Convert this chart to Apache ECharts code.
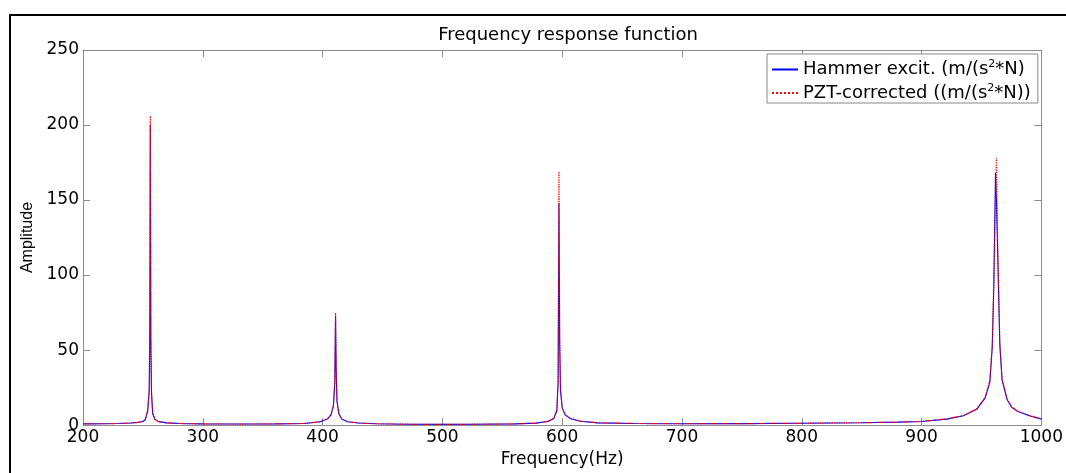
<!DOCTYPE html>
<html>
<head>
<meta charset="utf-8">
<script src="https://cdn.jsdelivr.net/npm/echarts@6/dist/echarts.min.js"></script>
<style>
html,body{margin:0;padding:0;background:#fff;}
#chart{width:1066px;height:473px;}
</style>
</head>
<body>
<div id="chart"></div>
<script>
// Frequency axis samples (Hz)
var freq = [
  200,215,230,240,246,250,252,254,255.3,255.8,256.2,256.6,257.2,258.2,260,263,270,280,300,
  330,360,385,398,404,407,409,410.2,410.8,411.3,412,413.5,416,421,430,445,470,
  500,530,560,578,588,593,595.5,596.6,597.3,597.9,598.6,600,602.5,607,615,630,660,700,
  750,800,850,880,900,921,935,946,953,957,959,960.3,961.7,962.5,963.6,965.3,967.2,971.4,975,980,990,1000
];
// Hammer excitation FRF amplitude
var hammer = [
  0.8,0.9,1.1,1.4,1.8,2.4,3.6,9.5,23,65,200,55,21,7.5,3.8,2.3,1.5,1.1,0.8,
  0.7,0.8,1.1,2.2,4,6.8,12.5,28,73,38,16,7.8,4,2.2,1.4,0.9,0.6,
  0.5,0.6,0.8,1.3,2.4,4.4,9.5,28,148,55,23,11.5,6.8,4.2,2.6,1.5,1.1,0.9,
  1.0,1.2,1.6,2.0,2.4,4.0,6.2,10.5,18,28.5,52,92,168,150,112,54,30,17,12,9.2,6.2,4.0
];
// PZT-corrected FRF amplitude
var pzt = [
  0.8,0.9,1.1,1.4,1.8,2.5,3.8,10,24,70,206,60,22,8,4,2.4,1.5,1.1,0.8,
  0.7,0.8,1.1,2.2,4,7,13,30,75,40,17,8,4,2.2,1.4,0.9,0.6,
  0.5,0.6,0.8,1.3,2.4,4.5,10,30,169,60,25,12,7,4.4,2.7,1.5,1.1,0.9,
  1.0,1.2,1.6,2.0,2.4,4.2,6.4,10.8,18.5,30,54,98,150,178,120,55,31,17.5,12.5,9.5,6.4,4.2
];
var seriesNames = ['Hammer excit. (m/(s2*N)', 'PZT-corrected ((m/(s2*N))'];
var legendRich = {
  'Hammer excit. (m/(s2*N)': '{t|Hammer excit. (m/(s}{s|2}{t|*N)}',
  'PZT-corrected ((m/(s2*N))': '{t|PZT-corrected ((m/(s}{s|2}{t|*N))}'
};
var titleText = 'Frequency response function';
var xName = 'Frequency(Hz)';
var yName = 'Amplitude';

function pairs(xs, ys){ var out=[]; for(var i=0;i<xs.length;i++){ out.push([xs[i], ys[i]]); } return out; }

var chart = echarts.init(document.getElementById('chart'), null, {renderer:'canvas'});
var F = 'DejaVu Sans';
var axisGray = '#8c8c8c';
var plain = function(v){ return String(v); };
var option = {
  animation:false,
  backgroundColor:'#fff',
  title:{
    text:titleText, left:563, top:21, textAlign:'center',
    textStyle:{fontFamily:F, fontSize:18, fontWeight:'normal', color:'#000'}
  },
  grid:{left:83, right:22, top:50, bottom:45, containLabel:false},
  legend:{
    orient:'vertical', left:767, top:54, data:seriesNames,
    itemWidth:26, itemHeight:10, itemGap:4,
    padding:[5,7,1,4],
    borderColor:'#888', borderWidth:1, backgroundColor:'#fff', borderRadius:0,
    itemStyle:{opacity:0},
    formatter:function(n){ return legendRich[n]; },
    textStyle:{fontFamily:F, fontSize:18, color:'#000',
      rich:{
        t:{fontFamily:F, fontSize:18, color:'#000', lineHeight:21},
        s:{fontFamily:F, fontSize:11, color:'#000', lineHeight:11, verticalAlign:'top'}
      }
    }
  },
  xAxis:[{
    type:'value', min:200, max:1000, interval:100, position:'bottom',
    name:xName, nameLocation:'middle', nameGap:18,
    nameTextStyle:{fontFamily:F, fontSize:17, color:'#000'},
    axisLine:{show:true, onZero:false, lineStyle:{color:axisGray, width:1}},
    axisTick:{show:true, inside:true, length:7, lineStyle:{color:axisGray}},
    axisLabel:{fontFamily:F, fontSize:17, color:'#000', margin:4, formatter:plain},
    splitLine:{show:false}
  },{
    type:'value', min:200, max:1000, interval:100, position:'top',
    axisLine:{show:true, onZero:false, lineStyle:{color:axisGray, width:1}},
    axisTick:{show:true, inside:true, length:7, lineStyle:{color:axisGray}},
    axisLabel:{show:false}, splitLine:{show:false}
  }],
  yAxis:[{
    type:'value', min:0, max:250, interval:50, position:'left',
    name:yName, nameLocation:'middle', nameGap:40, nameRotate:90,
    nameTextStyle:{fontFamily:'Liberation Sans', fontSize:16, color:'#000'},
    axisLine:{show:true, onZero:false, lineStyle:{color:axisGray, width:1}},
    axisTick:{show:true, inside:true, length:7, lineStyle:{color:axisGray}},
    axisLabel:{fontFamily:F, fontSize:17, color:'#000', margin:4, formatter:plain},
    splitLine:{show:false}
  },{
    type:'value', min:0, max:250, interval:50, position:'right',
    axisLine:{show:true, onZero:false, lineStyle:{color:axisGray, width:1}},
    axisTick:{show:true, inside:true, length:7, lineStyle:{color:axisGray}},
    axisLabel:{show:false}, splitLine:{show:false}
  }],
  series:[{
    name:seriesNames[0], type:'line', xAxisIndex:0, yAxisIndex:0,
    data:pairs(freq, hammer), showSymbol:false, symbol:'none',
    lineStyle:{color:'#0000ff', width:1.1, type:'solid'}, itemStyle:{color:'#0000ff'}, z:2
  },{
    name:seriesNames[1], type:'line', xAxisIndex:0, yAxisIndex:0,
    data:pairs(freq, pzt), showSymbol:false, symbol:'none',
    lineStyle:{color:'#ff0000', width:1.2, type:'dotted'}, itemStyle:{color:'#ff0000'}, z:3
  }],
  graphic:[{
    type:'rect', silent:true, z:100,
    shape:{x:10, y:15, width:1200, height:600},
    style:{fill:'none', stroke:'#000', lineWidth:2}
  }]
};
chart.setOption(option);
</script>
</body>
</html>
